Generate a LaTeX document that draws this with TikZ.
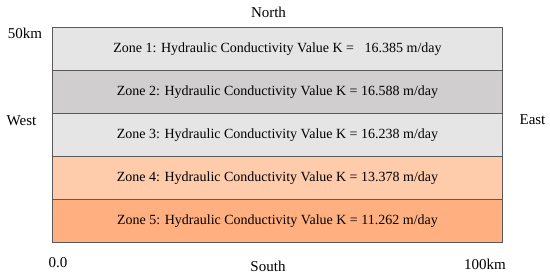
\documentclass[tikz,border=0pt]{standalone}
\usepackage{fontspec}
\setmainfont{Liberation Serif}
\definecolor{zgray}{HTML}{E5E5E5}
\definecolor{zdark}{HTML}{D0CECE}
\definecolor{zpeach}{HTML}{FECBAB}
\definecolor{zorange}{HTML}{FFAF80}
\definecolor{zline}{HTML}{5A5A5A}
\begin{document}
\begin{tikzpicture}[x=1pt,y=-1pt,
  zonebox/.style={draw=zline,line width=0.9pt,minimum width=450pt,minimum height=43pt,inner sep=0pt,anchor=north west,font=\fontsize{14}{16}\selectfont},
  lab/.style={font=\fontsize{15}{17}\selectfont,inner sep=0pt}]
\useasboundingbox (0,0) rectangle (550,277);
\node[zonebox,fill=zgray]   (z1) at (52,27)  {Zone 1: Hydraulic Conductivity Value K =~~~16.385 m/day};
\node[zonebox,fill=zdark]   (z2) at (52,70)  {Zone 2: Hydraulic Conductivity Value K = 16.588 m/day};
\node[zonebox,fill=zgray]   (z3) at (52,113) {Zone 3: Hydraulic Conductivity Value K = 16.238 m/day};
\node[zonebox,fill=zpeach]  (z4) at (52,156) {Zone 4: Hydraulic Conductivity Value K = 13.378 m/day};
\node[zonebox,fill=zorange] (z5) at (52,199) {Zone 5: Hydraulic Conductivity Value K = 11.262 m/day};
\node[lab] (north) at (268.5,12) {North};
\node[lab] (south) at (268,266) {South};
\node[lab] (west) at (21.5,121) {West};
\node[lab] (east) at (532.5,120) {East};
\node[lab] (km50) at (25,33) {50km};
\node[lab] (zero) at (58,263) {0.0};
\node[lab] (km100) at (485,264) {100km};
\end{tikzpicture}
\end{document}
